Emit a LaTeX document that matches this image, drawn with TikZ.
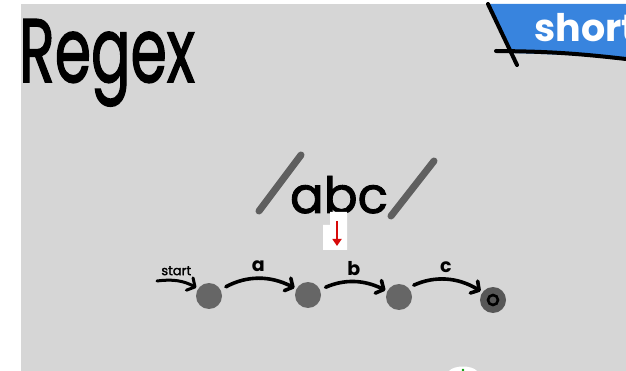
\documentclass[tikz,border=0pt]{standalone}
\usepackage{fontspec}
\setmainfont{Poppins}
\newfontfamily\markerfont{Poppins}[FakeBold=1.8]
\usetikzlibrary{arrows.meta}
\definecolor{bgcol}{RGB}{214,214,214}
\definecolor{statecol}{RGB}{102,102,102}
\definecolor{slashcol}{RGB}{95,95,95}
\definecolor{tagcol}{RGB}{56,132,222}
\definecolor{markcol}{RGB}{215,10,10}

\begin{document}
\begin{tikzpicture}[x=1pt,y=-1pt,
  state/.style={circle,fill=statecol,minimum size=26pt,inner sep=0pt},
  edge/.style={line width=3.6pt,line cap=round,shorten <=6pt,shorten >=2pt,
    -{Straight Barb[length=6pt,width=14pt,round]}},
  lbl/.style={font=\fontsize{19}{19}\selectfont\bfseries,inner sep=1pt}]
\useasboundingbox (0,0) rectangle (626,371);
\clip (0,0) rectangle (626,371);
\fill[bgcol] (21,4) rectangle (626,371);

% heading and the tag in the corner
\node[anchor=base west,inner sep=0pt] (title) at (19,82)
  {\fontsize{90}{90}\markerfont\scalebox{0.65}[1]{Regex}};
\fill[tagcol] (489,4) -- (626,4) -- (626,57) -- (512,53) -- cycle;
\draw[line width=4pt,line cap=round] (488,4) -- (517,65);
\draw[line width=4pt,line cap=round] (496,51) to[bend left=3] (626,59);
\node[anchor=base west,inner sep=0pt,text=white] (tag) at (534,42)
  {\fontsize{38}{38}\selectfont\bfseries short};

% the pattern
\draw[slashcol,line width=7pt,line cap=round] (259,211) -- (301,155);
\draw[slashcol,line width=7pt,line cap=round] (391,216) -- (434,161);
\node[anchor=base,inner sep=0pt] (pat) at (339,213)
  {\fontsize{50}{50}\markerfont abc};
\fill[white] (330,212) rectangle (347,225) (323,225) rectangle (347,250);
\draw[markcol,line width=2.4pt,-{Triangle[length=7pt,width=9pt]}] (337,221) -- (337,246);

% automaton for /abc/
\node[state] (s0) at (209,296) {};
\node[state] (s1) at (308,295) {};
\node[state] (s2) at (399,297) {};
\node[state,fill=statecol!85!black] (s3) at (493,300) {};
\draw[line width=2.6pt] (s3) circle (5pt);
\coordinate (init) at (157,281);
\draw[edge,line width=3pt,shorten <=0pt] (init) to[bend left=18] node[lbl,above=3pt,pos=0.45,font=\fontsize{13}{13}\markerfont] {start} (s0);
\draw[edge] (s0) to[bend left=28] node[lbl,above=4pt] {a} (s1);
\draw[edge] (s1) to[bend left=25] node[lbl,above=4pt] {b} (s2);
\draw[edge] (s2.north east) to[bend left=28] node[lbl,above=4pt] {c} (s3);

% bit of an icon peeking in at the bottom
\fill[white] (449,371) .. controls (454,365) and (472,365) .. (477,371) -- cycle;
\fill[green!60!black] (463,370) circle (1.3pt);
\end{tikzpicture}
\end{document}
